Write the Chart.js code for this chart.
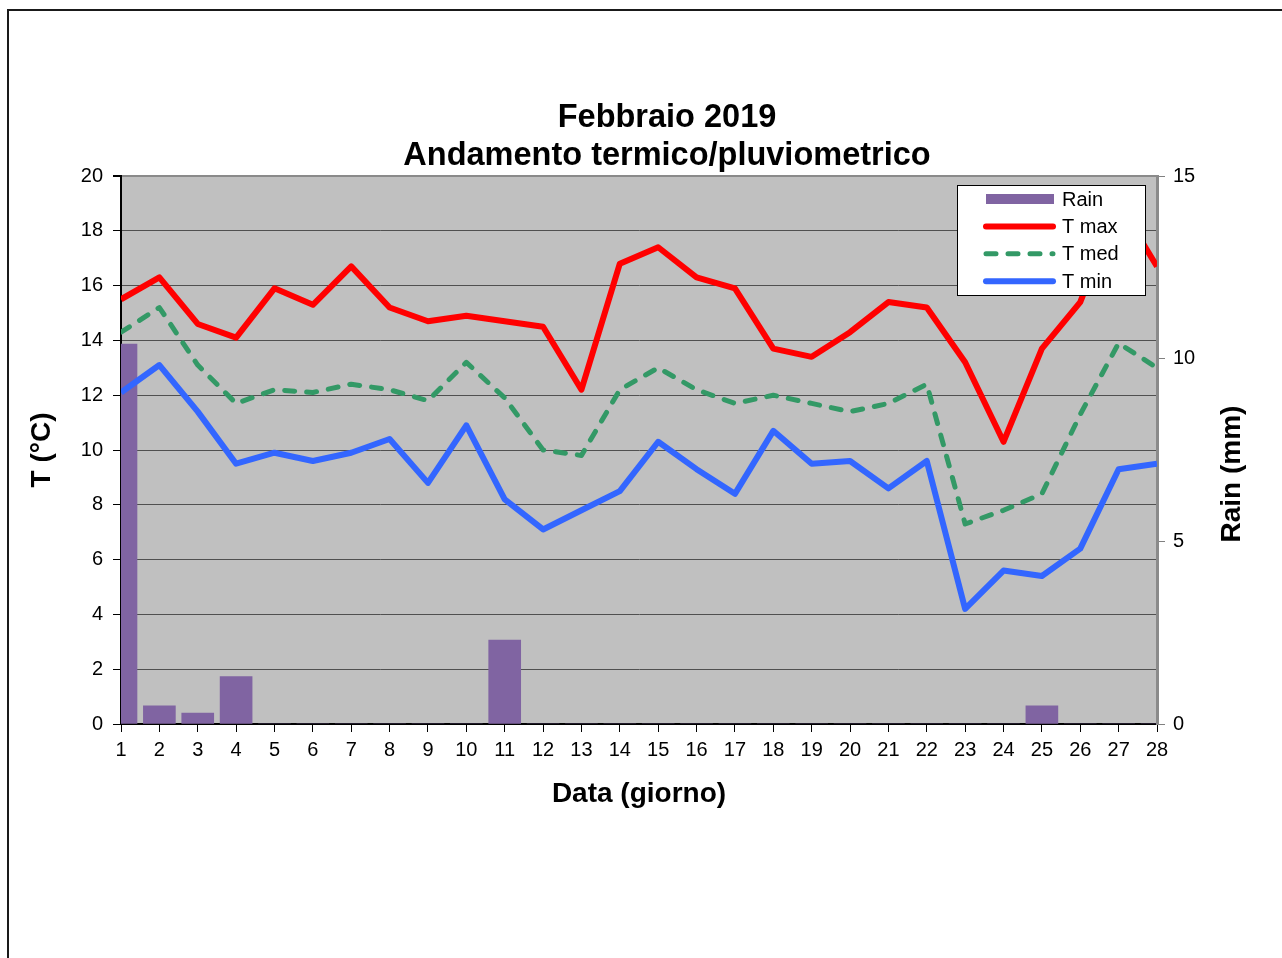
<!DOCTYPE html>
<html>
<head>
<meta charset="utf-8">
<title>Febbraio 2019 - Andamento termico/pluviometrico</title>
<script src="https://cdn.jsdelivr.net/npm/chart.js@4"></script>
<style>
  html, body { margin: 0; padding: 0; background: #fff; overflow: hidden; }
  #chart { display: block; }
</style>
</head>
<body>
<canvas id="chart" width="1282" height="958"></canvas>
<script>
// Data
const days = ['1','2','3','4','5','6','7','8','9','10','11','12','13','14',
              '15','16','17','18','19','20','21','22','23','24','25','26','27','28'];
const tMax = [15.5, 16.3, 14.6, 14.1, 15.9, 15.3, 16.7, 15.2, 14.7, 14.9, 14.7, 14.5, 12.2, 16.8,
              17.4, 16.3, 15.9, 13.7, 13.4, 14.3, 15.4, 15.2, 13.2, 10.3, 13.7, 15.4, 19.0, 16.7];
const tMed = [14.3, 15.2, 13.1, 11.7, 12.2, 12.1, 12.4, 12.2, 11.8, 13.2, 11.9, 10.0, 9.8, 12.2,
              13.0, 12.2, 11.7, 12.0, 11.7, 11.4, 11.7, 12.4, 7.3, 7.8, 8.4, 11.3, 13.9, 13.0];
const tMin = [12.1, 13.1, 11.4, 9.5, 9.9, 9.6, 9.9, 10.4, 8.8, 10.9, 8.2, 7.1, 7.8, 8.5,
              10.3, 9.3, 8.4, 10.7, 9.5, 9.6, 8.6, 9.6, 4.2, 5.6, 5.4, 6.4, 9.3, 9.5];
const rain = [10.4, 0.5, 0.3, 1.3, 0, 0, 0, 0, 0, 0, 2.3, 0, 0, 0,
              0, 0, 0, 0, 0, 0, 0, 0, 0, 0, 0.5, 0, 0, 0];
const tempTicks = [0, 20, 2];   // min, max, step
const rainTicks = [0, 15, 5];
const titleLines = ['Febbraio 2019', 'Andamento termico/pluviometrico'];

const FONT = "'Liberation Sans', Arial, sans-serif";
Chart.defaults.font.family = FONT;
Chart.defaults.color = '#000';

// Plot background and the outer frame
const backdrop = {
    id: 'backdrop',
    beforeDraw(chart) {
        const {ctx, chartArea: a} = chart;
        ctx.save();
        ctx.strokeStyle = '#1a1a1a';
        ctx.lineWidth = 2;
        ctx.strokeRect(8, 10, 2000, 2000);
        ctx.fillStyle = '#c0c0c0';
        ctx.fillRect(a.left, a.top, a.right - a.left, a.bottom - a.top);
        ctx.restore();
    }
};

// Title lines and right axis title (reads bottom to top)
const texts = {
    id: 'texts',
    afterDraw(chart) {
        const ctx = chart.ctx;
        ctx.save();
        ctx.fillStyle = '#000';
        ctx.textAlign = 'center';
        ctx.textBaseline = 'middle';
        ctx.font = 'bold 32.5px ' + FONT;
        ctx.fillText(titleLines[0], 667, 118);
        ctx.fillText(titleLines[1], 667, 156);
        ctx.translate(1232, 474);
        ctx.rotate(-Math.PI / 2);
        ctx.font = 'bold 28px ' + FONT;
        ctx.fillText('Rain (mm)', 0, 0);
        ctx.restore();
    }
};

// Legend box inside the plot, drawn over the lines
const boxLegend = {
    id: 'boxLegend',
    afterDatasetsDraw(chart) {
        const ctx = chart.ctx;
        const order = [0, 1, 2, 3];
        ctx.save();
        ctx.fillStyle = '#fff';
        ctx.fillRect(957, 185, 188, 110);
        ctx.strokeStyle = '#000';
        ctx.lineWidth = 1;
        ctx.strokeRect(957.5, 185.5, 188, 110);
        ctx.font = '20px ' + FONT;
        ctx.textBaseline = 'middle';
        ctx.textAlign = 'left';
        order.forEach((i, row) => {
            const ds = chart.data.datasets[i];
            const y = 199 + row * 27.4;
            if (ds.type === 'bar') {
                ctx.fillStyle = ds.backgroundColor;
                ctx.fillRect(986, y - 5, 68, 10);
            } else {
                ctx.strokeStyle = ds.borderColor;
                ctx.lineWidth = ds.borderWidth;
                ctx.lineCap = 'round';
                ctx.setLineDash(ds.borderDash || []);
                ctx.beginPath();
                ctx.moveTo(986, y);
                ctx.lineTo(1053, y);
                ctx.stroke();
                ctx.setLineDash([]);
            }
            ctx.fillStyle = '#000';
            ctx.fillText(ds.label, 1062, y + 1);
        });
        ctx.restore();
    }
};

const ctx = document.getElementById('chart').getContext('2d');

new Chart(ctx, {
    type: 'line',
    data: {
        labels: days,
        datasets: [{
            type: 'bar',
            label: 'Rain',
            data: rain,
            yAxisID: 'y1',
            backgroundColor: '#8064a2',
            borderWidth: 0,
            barThickness: 32,
            clip: 0,
            order: 4
        }, {
            label: 'T max',
            data: tMax,
            yAxisID: 'y',
            borderColor: '#ff0000',
            borderWidth: 6,
            pointRadius: 0,
            borderJoinStyle: 'round',
            clip: 0,
            order: 3
        }, {
            label: 'T med',
            data: tMed,
            yAxisID: 'y',
            borderColor: '#339966',
            borderWidth: 5,
            borderDash: [10, 12],
            borderCapStyle: 'round',
            pointRadius: 0,
            borderJoinStyle: 'round',
            clip: 0,
            order: 2
        }, {
            label: 'T min',
            data: tMin,
            yAxisID: 'y',
            borderColor: '#3366ff',
            borderWidth: 6,
            pointRadius: 0,
            borderJoinStyle: 'round',
            clip: 0,
            order: 1
        }]
    },
    options: {
        responsive: false,
        animation: false,
        devicePixelRatio: 1,
        layout: { padding: { top: 176, left: 0, right: 0, bottom: 0 } },
        plugins: {
            legend: { display: false },
            title: { display: false },
            tooltip: { enabled: false }
        },
        scales: {
            x: {
                type: 'category',
                offset: false,
                grid: {
                    offset: false,
                    drawOnChartArea: false,
                    tickLength: 8,
                    tickColor: '#000'
                },
                border: { color: '#000', width: 2 },
                ticks: {
                    autoSkip: false,
                    maxRotation: 0,
                    padding: 6,
                    font: { size: 20 }
                },
                title: {
                    display: true,
                    text: 'Data (giorno)',
                    font: { size: 28, weight: 'bold' },
                    padding: { top: 0, bottom: 147 }
                },
                afterFit(scale) { scale.height = 234; }
            },
            y: {
                position: 'left',
                min: tempTicks[0],
                max: tempTicks[1],
                grid: {
                    color: c => c.tick && c.tick.value === tempTicks[1] ? '#8a8a8a' : '#505050',
                    lineWidth: c => c.tick && c.tick.value === tempTicks[1] ? 2 : 1,
                    tickLength: 8,
                    tickColor: '#000'
                },
                border: { color: '#000', width: 2 },
                ticks: {
                    stepSize: tempTicks[2],
                    padding: 10,
                    font: { size: 20 }
                },
                title: {
                    display: true,
                    text: 'T (°C)',
                    font: { size: 28, weight: 'bold' },
                    padding: { top: 25, bottom: 0 }
                },
                afterFit(scale) { scale.width = 121; }
            },
            y1: {
                position: 'right',
                min: rainTicks[0],
                max: rainTicks[1],
                grid: {
                    drawOnChartArea: false,
                    tickLength: 8,
                    tickColor: '#808080'
                },
                border: { color: '#8a8a8a', width: 3 },
                ticks: {
                    stepSize: rainTicks[2],
                    padding: 8,
                    font: { size: 20 }
                },
                afterFit(scale) { scale.width = 125; }
            }
        }
    },
    plugins: [backdrop, boxLegend, texts]
});
</script>
</body>
</html>
